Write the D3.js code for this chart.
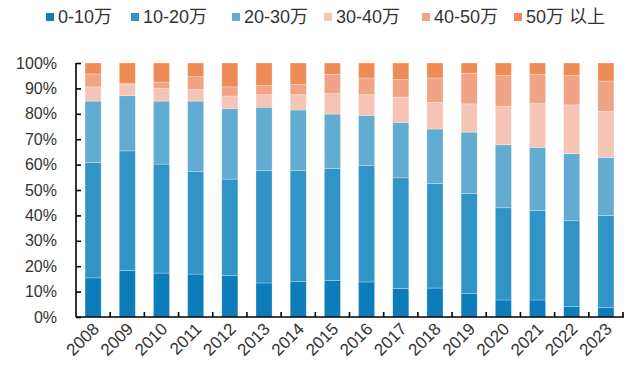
<!DOCTYPE html>
<html>
<head>
<meta charset="utf-8">
<script src="https://cdn.jsdelivr.net/npm/d3@7"></script>
<style>
  html, body { margin: 0; padding: 0; background: #fff; }
  svg { display: block; font-family: "Liberation Sans", Arial, "Noto Sans CJK SC", sans-serif; }
</style>
</head>
<body>
<svg id="chart" width="629" height="374"></svg>
<script>
// Share of buyers by price bracket, per year (percent of total)
const years = ["2008","2009","2010","2011","2012","2013","2014","2015",
               "2016","2017","2018","2019","2020","2021","2022","2023"];
const seriesNames = ["0-10万","10-20万","20-30万","30-40万","40-50万","50万 以上"];
const s0to10   = [15.4,18.4,17.3,16.9,16.4,13.4,13.9,14.3,13.8,11.3,11.4, 9.3, 6.7, 6.7, 4.1, 3.7];
const s10to20  = [45.5,47.0,42.9,40.3,37.9,44.2,43.7,44.1,45.9,43.5,41.2,39.3,36.3,35.3,33.8,36.3];
const s20to30  = [24.1,21.7,24.8,27.8,27.7,25.0,23.9,21.5,19.7,21.7,21.4,24.2,24.8,24.8,26.4,22.8];
const s30to40  = [ 5.6, 4.5, 5.0, 4.5, 5.0, 4.9, 6.0, 8.0, 8.1,10.1,10.5,11.1,15.1,17.2,19.2,18.2];
const s40to50  = [ 5.1, 0.5, 2.5, 5.1, 3.6, 3.6, 4.0, 7.6, 6.6, 6.9, 9.6,12.1,12.1,11.6,11.5,11.9];
const s50plus  = [ 4.3, 7.9, 7.5, 5.4, 9.4, 8.9, 8.5, 4.5, 5.9, 6.5, 5.9, 4.0, 5.0, 4.4, 5.0, 7.1];
const yTicks = [0,10,20,30,40,50,60,70,80,90,100];
const colors = ["#0c7cba","#3194c6","#62abd1","#f6c4b4","#f1a385","#ef8c56"];

const seriesValues = [s0to10, s10to20, s20to30, s30to40, s40to50, s50plus];
const rows = years.map((yr, i) => {
  const r = { year: yr };
  seriesNames.forEach((n, k) => { r[n] = seriesValues[k][i]; });
  return r;
});

const svg = d3.select("#chart");
const plotLeft = 76, plotRight = 623, plotTop = 63, plotBottom = 317;

const x = d3.scaleBand().domain(years).range([plotLeft, plotRight])
  .paddingInner(0.53).paddingOuter(0.265);
const y = d3.scaleLinear().domain([0, 100]).range([plotBottom, plotTop]);

const stacked = d3.stack().keys(seriesNames)
  .offset(d3.stackOffsetExpand)(rows);

const color = d3.scaleOrdinal().domain(seriesNames).range(colors);

// stacked bars
svg.append("g").selectAll("g")
  .data(stacked).join("g")
  .attr("fill", d => color(d.key))
  .selectAll("rect")
  .data(d => d).join("rect")
  .attr("x", d => x(d.data.year))
  .attr("width", x.bandwidth())
  .attr("y", d => y(d[1] * 100))
  .attr("height", d => y(d[0] * 100) - y(d[1] * 100))
  .attr("stroke", "#fff")
  .attr("stroke-opacity", 0.45)
  .attr("stroke-width", 0.6);

// y axis with inward ticks
const yAxis = d3.axisLeft(y).tickValues(yTicks)
  .tickSize(-5).tickPadding(19).tickFormat(d => d + "%");
const gy = svg.append("g").attr("transform", `translate(${plotLeft},0)`).call(yAxis);
gy.select(".domain").attr("stroke", "#000").attr("stroke-width", 1.6)
  .attr("d", `M0,${plotTop}V${plotBottom}`);
gy.selectAll(".tick line").attr("stroke", "#000").attr("stroke-width", 1.6);
gy.selectAll(".tick text").attr("fill", "#333").style("font-size", "16px")
  .attr("font-family", "'Liberation Sans', Arial, sans-serif");

// x axis: ticks on band boundaries, pointing up
const gx = svg.append("g").attr("transform", `translate(0,${plotBottom})`);
gx.append("path").attr("d", `M${plotLeft},0H${plotRight + 1}`)
  .attr("stroke", "#000").attr("stroke-width", 1.6).attr("fill", "none");
const boundaries = years.map(yr => x(yr) + x.bandwidth() + x.step() * x.paddingInner() / 2);
gx.selectAll("line.tk").data(boundaries).join("line")
  .attr("class", "tk")
  .attr("x1", d => d).attr("x2", d => d)
  .attr("y1", 0).attr("y2", -5)
  .attr("stroke", "#000").attr("stroke-width", 1.6);
gx.selectAll("text").data(years).join("text")
  .attr("transform", d => `translate(${x(d) + x.bandwidth() / 2 + 7},${13}) rotate(-45)`)
  .attr("text-anchor", "end")
  .attr("fill", "#333")
  .style("font-size", "17px")
  .text(d => d);

// legend
const legendX = [46, 131, 232, 324, 422, 514];
const lg = svg.append("g").selectAll("g")
  .data(seriesNames).join("g")
  .attr("transform", (d, i) => `translate(${legendX[i]},17)`);
lg.append("rect").attr("x", 0).attr("y", -4).attr("width", 8).attr("height", 8)
  .attr("fill", d => color(d));
lg.append("text").attr("x", 12).attr("y", 0).attr("dy", "0.35em")
  .attr("fill", "#333").style("font-size", "18px")
  .text(d => d);
</script>
</body>
</html>
